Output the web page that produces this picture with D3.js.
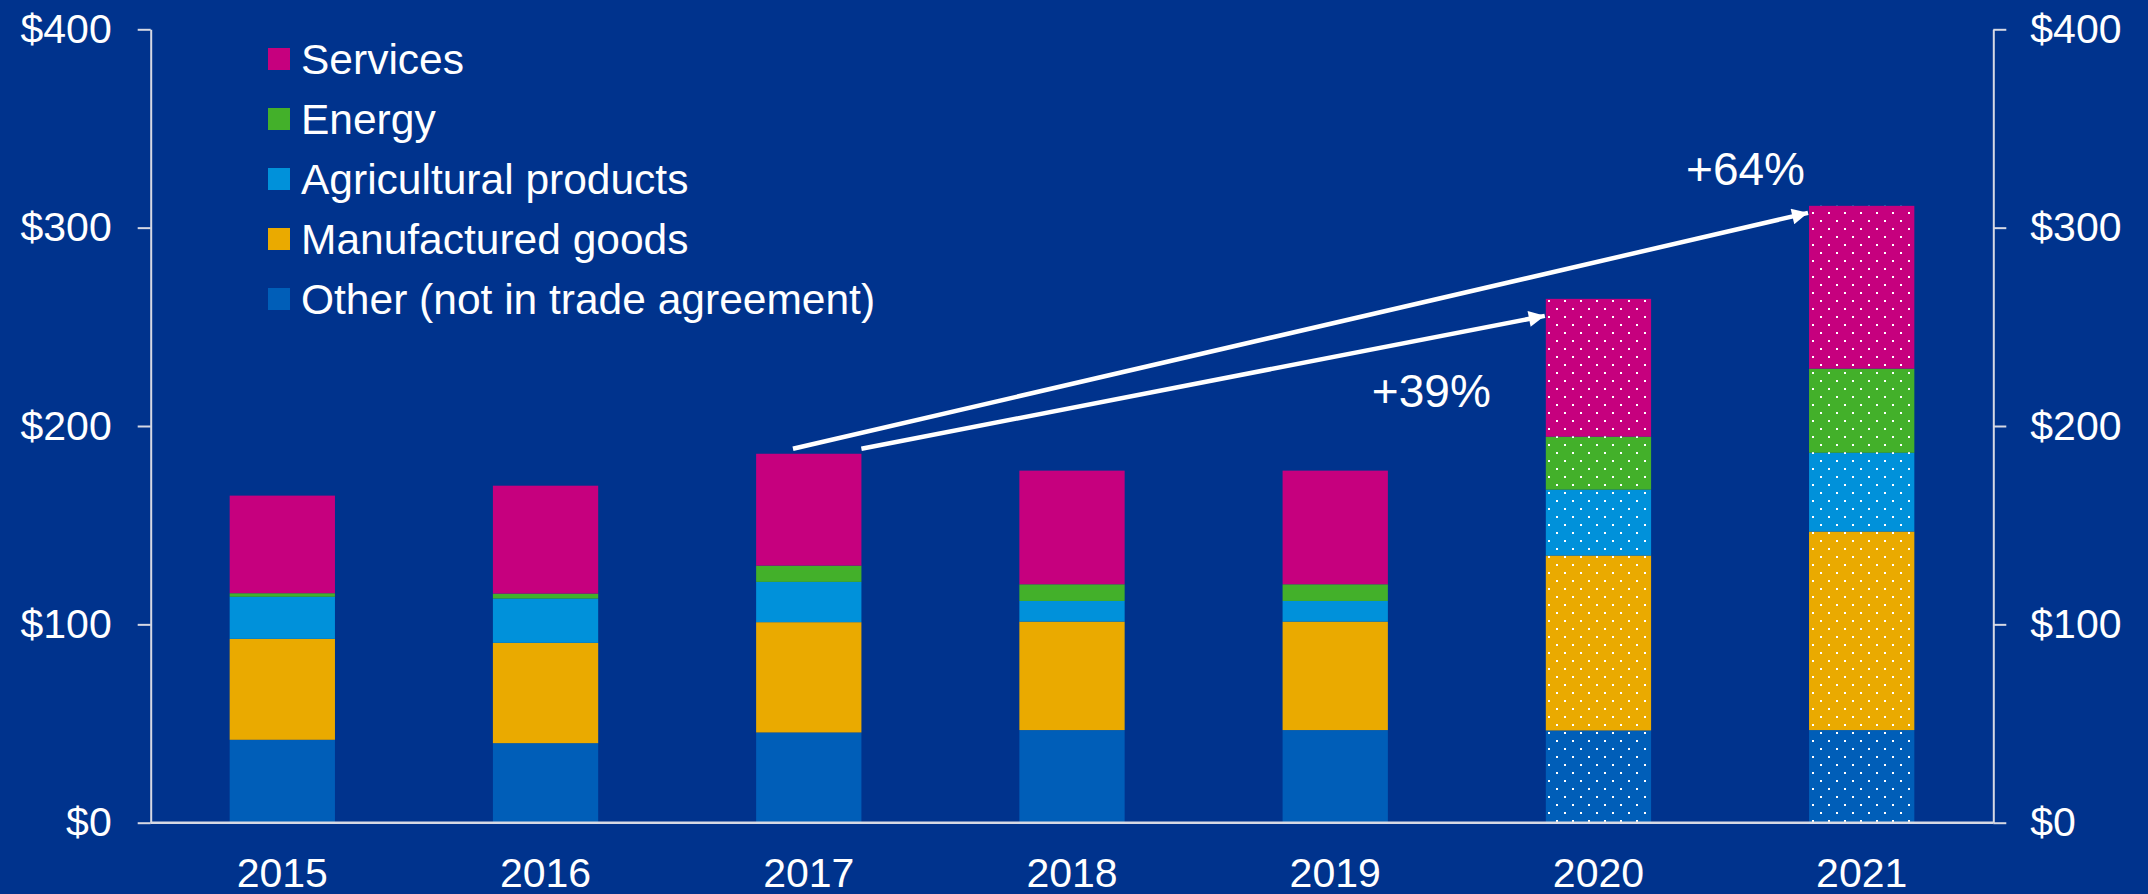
<!DOCTYPE html>
<html>
<head>
<meta charset="utf-8">
<script src="https://cdn.jsdelivr.net/npm/d3@7"></script>
<style>
  html, body { margin: 0; padding: 0; background: #00338D; }
  svg { display: block; }
  text { font-family: "Liberation Sans", Arial, Helvetica, sans-serif; fill: #ffffff; }
</style>
</head>
<body>
<svg id="chart" width="2148" height="894"></svg>
<script>
// Trade by category, $ billions
const years = ["2015", "2016", "2017", "2018", "2019", "2020", "2021"];
const projectedYears = ["2020", "2021"];
const other        = [41.8, 40.1, 45.5, 46.7, 46.7, 46.5, 46.7];
const manufactured = [50.9, 50.6, 55.6, 54.7, 54.7, 88.2, 100.1];
const agricultural = [21.2, 22.3, 20.3, 10.4, 10.4, 33.2, 39.7];
const energy       = [1.8, 2.5, 8.2, 8.4, 8.4, 26.7, 42.4];
const services     = [49.2, 54.4, 56.4, 57.3, 57.3, 69.5, 82.1];

const seriesKeys   = ["other", "manufactured", "agricultural", "energy", "services"];
const seriesLabels = ["Other (not in trade agreement)", "Manufactured goods", "Agricultural products", "Energy", "Services"];
const seriesColors = ["#005EB8", "#EAAA00", "#0091DA", "#43B02A", "#C6007E"];

const yTicks = [0, 100, 200, 300, 400];

// Growth callouts from 2017
const growthFrom   = "2017";
const growthTo     = ["2020", "2021"];
const growthLabels = ["+39%", "+64%"];

const rows = years.map((yr, i) => ({
  year: yr,
  other: other[i],
  manufactured: manufactured[i],
  agricultural: agricultural[i],
  energy: energy[i],
  services: services[i]
}));
const totals = rows.map(r => seriesKeys.reduce((s, k) => s + r[k], 0));
const totalOf = yr => totals[years.indexOf(yr)];

const svg = d3.select("#chart");
const W = 2148, H = 894;
const plotLeft = 150.7, plotRight = 1993.3, plotTop = 29.3, plotBottom = 822.7;

svg.append("rect").attr("width", W).attr("height", H).attr("fill", "#00338D");

// Dotted fill for projected years
const defs = svg.append("defs");
seriesColors.forEach((c, i) => {
  const p = defs.append("pattern")
    .attr("id", "dots-" + i)
    .attr("patternUnits", "userSpaceOnUse")
    .attr("width", 16).attr("height", 16);
  p.append("rect").attr("width", 16).attr("height", 16).attr("fill", c);
  p.append("rect").attr("x", 4).attr("y", 4).attr("width", 2).attr("height", 2).attr("fill", "#ffffff");
  p.append("rect").attr("x", 12).attr("y", 12).attr("width", 2).attr("height", 2).attr("fill", "#ffffff");
});

const x = d3.scaleBand().domain(years).range([plotLeft, plotRight]).paddingInner(0.6).paddingOuter(0.3);
const y = d3.scaleLinear().domain([0, 400]).range([plotBottom, plotTop]);

const stack = d3.stack().keys(seriesKeys)(rows);

const axisColor = "#D6D9E4";
const fmt = d => "$" + d;

// Left axis
const gl = svg.append("g").attr("transform", `translate(${plotLeft},0)`)
  .call(d3.axisLeft(y).tickValues(yTicks).tickFormat(fmt).tickSize(13).tickSizeOuter(0).tickPadding(26));
// Right axis
const gr = svg.append("g").attr("transform", `translate(${plotRight},0)`)
  .call(d3.axisRight(y).tickValues(yTicks).tickFormat(fmt).tickSize(13).tickSizeOuter(0).tickPadding(24));
[gl, gr].forEach(g => {
  g.select(".domain").attr("stroke", axisColor).attr("stroke-width", 2);
  g.selectAll(".tick line").attr("stroke", axisColor).attr("stroke-width", 2);
  g.selectAll(".tick text").attr("fill", "#ffffff").style("font-size", "41px")
    .style("font-family", "'Liberation Sans', Arial, sans-serif");
});

// Bars
const layers = svg.append("g").selectAll("g").data(stack).join("g");
layers.each(function (layer, li) {
  d3.select(this).selectAll("rect").data(layer).join("rect")
    .attr("x", d => x(d.data.year))
    .attr("width", x.bandwidth())
    .attr("y", d => y(d[1]))
    .attr("height", d => y(d[0]) - y(d[1]))
    .attr("fill", d => projectedYears.includes(d.data.year) ? `url(#dots-${li})` : seriesColors[li]);
});

// Baseline
svg.append("line")
  .attr("x1", plotLeft).attr("x2", plotRight)
  .attr("y1", y(0)).attr("y2", y(0))
  .attr("stroke", axisColor).attr("stroke-width", 2.5);

// Year labels
const gx = svg.append("g").attr("transform", `translate(0,${plotBottom})`)
  .call(d3.axisBottom(x).tickSize(0).tickPadding(35));
gx.select(".domain").remove();
gx.selectAll(".tick text").attr("fill", "#ffffff").style("font-size", "41px")
  .style("font-family", "'Liberation Sans', Arial, sans-serif");

// Legend (top entry first)
const legendOrder = seriesKeys.map((k, i) => i).reverse();
const legend = svg.append("g").attr("transform", "translate(268,59)");
legendOrder.forEach((si, row) => {
  const g = legend.append("g").attr("transform", `translate(0,${row * 60})`);
  g.append("rect").attr("x", 0).attr("y", -11).attr("width", 22).attr("height", 22).attr("fill", seriesColors[si]);
  g.append("text").attr("x", 33).attr("y", 0).attr("dy", "0.35em")
    .style("font-size", "42.5px").text(seriesLabels[si]);
});

// Growth arrows
defs.append("marker")
  .attr("id", "arrowhead")
  .attr("viewBox", "0 0 10 10")
  .attr("refX", 10).attr("refY", 5)
  .attr("markerUnits", "userSpaceOnUse")
  .attr("markerWidth", 17).attr("markerHeight", 16)
  .attr("orient", "auto")
  .append("path").attr("d", "M0,0 L10,5 L0,10 Z").attr("fill", "#ffffff");

const startY = y(totalOf(growthFrom)) - 5;
const starts = [x(growthFrom) + x.bandwidth(), x(growthFrom) + 0.35 * x.bandwidth()];
const tipDrop = [17, 7];
const annot = svg.append("g");
growthTo.forEach((yr, i) => {
  const tx = x(yr) - 1;
  const ty = y(totalOf(yr)) + tipDrop[i];
  annot.append("line")
    .attr("x1", starts[i]).attr("y1", startY)
    .attr("x2", tx).attr("y2", ty)
    .attr("stroke", "#ffffff").attr("stroke-width", 4.5)
    .attr("marker-end", "url(#arrowhead)");
  const lbl = annot.append("text")
    .attr("text-anchor", "end")
    .style("font-size", "46px")
    .text(growthLabels[i]);
  if (i === 0) lbl.attr("x", tx - 54).attr("y", ty + 91);
  else lbl.attr("x", tx - 3).attr("y", ty - 28);
});
</script>
</body>
</html>
